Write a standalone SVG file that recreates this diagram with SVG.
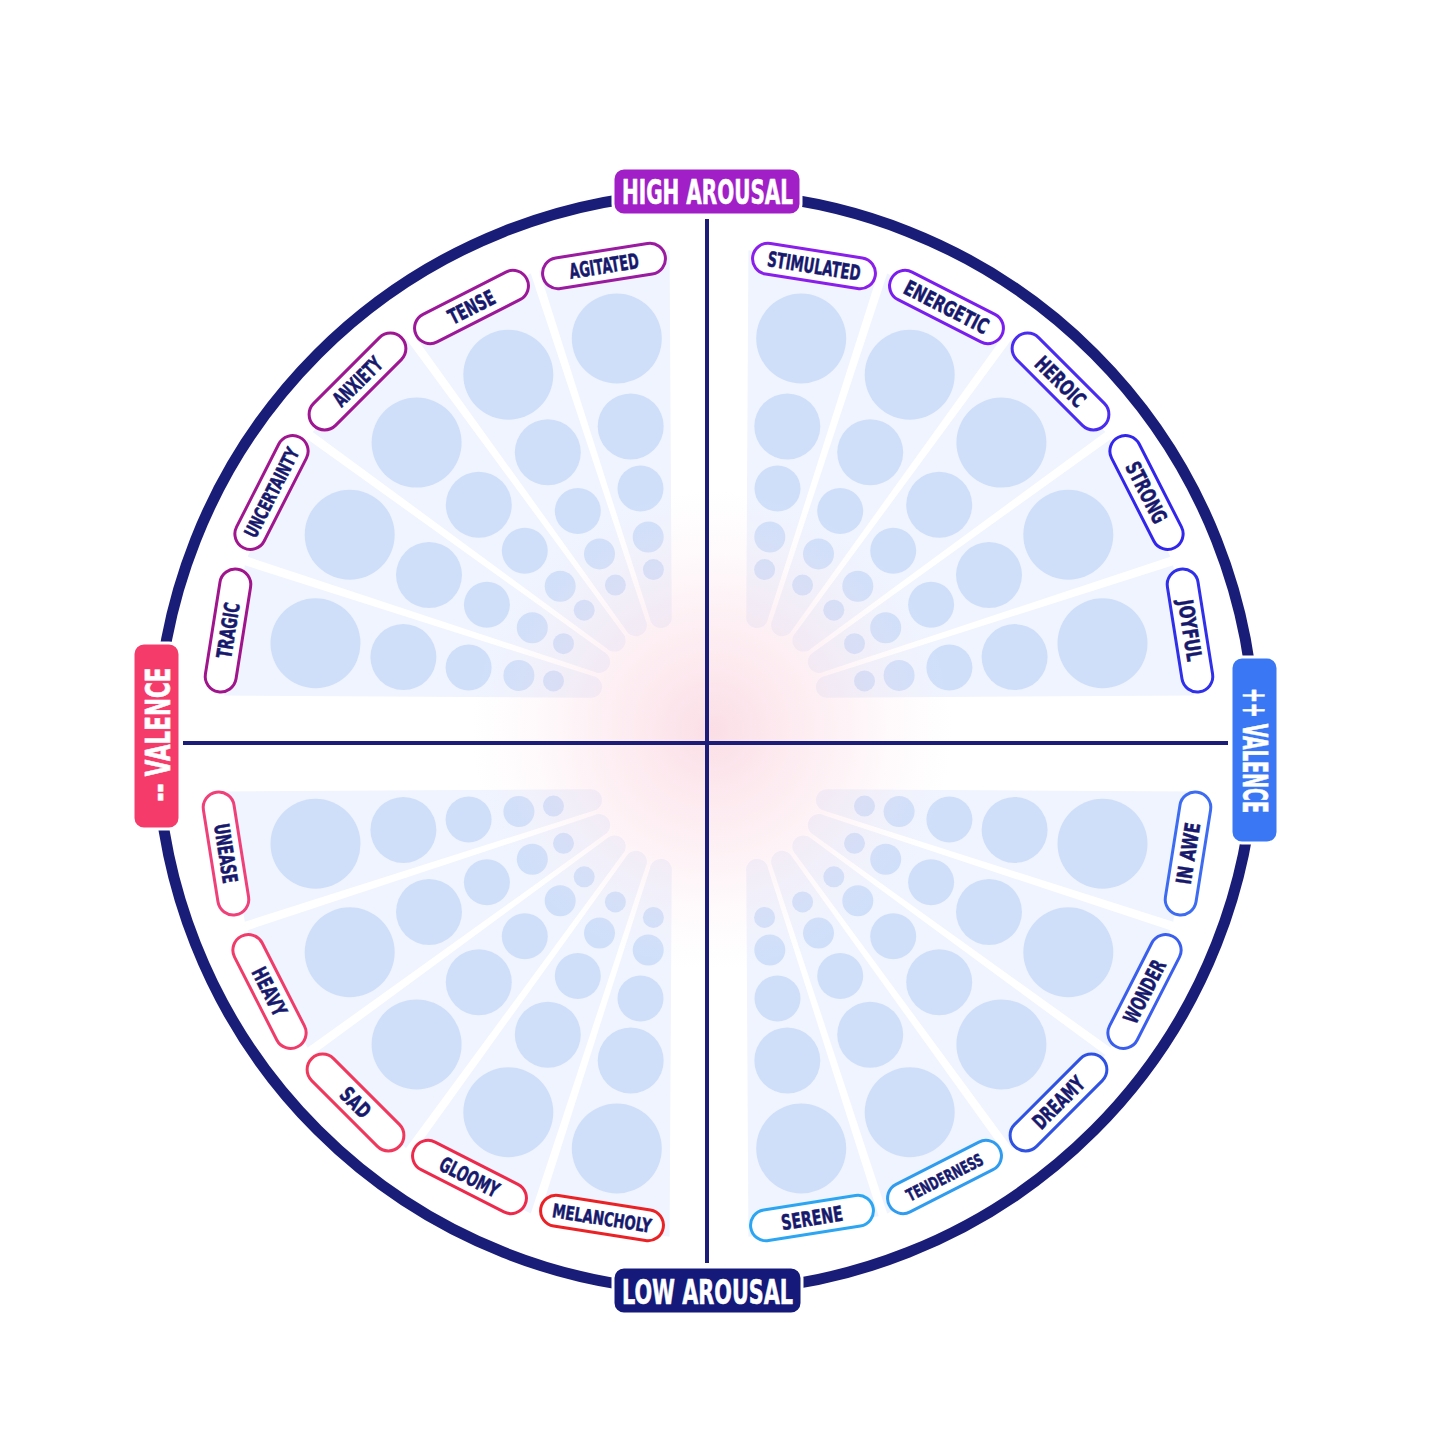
<svg xmlns="http://www.w3.org/2000/svg" xmlns:xlink="http://www.w3.org/1999/xlink" width="1445" height="1445" viewBox="0 0 1445 1445">
<style>
.petal{fill:#eff4fe}
.dot{fill:#cfdffa}
.pill{fill:#ffffff;stroke-width:3}
.lbl{font-family:"DejaVu Sans Condensed","DejaVu Sans",Roboto,sans-serif;font-stretch:condensed;font-weight:700;font-size:21px;fill:#17196d;text-anchor:middle;stroke:#17196d;stroke-width:0.5}
.axl{font-family:"DejaVu Sans Condensed","DejaVu Sans",Roboto,sans-serif;font-stretch:condensed;font-weight:700;font-size:33px;fill:#ffffff;text-anchor:middle;stroke:#ffffff;stroke-width:0.6}
.axis{stroke:#1b1d78;stroke-width:4;fill:none}
</style>
<defs>
<radialGradient id="glow" cx="0.5" cy="0.5" r="0.5">
<stop offset="0" stop-color="#f8c3d2" stop-opacity="0.55"/>
<stop offset="0.5" stop-color="#fad3de" stop-opacity="0.32"/>
<stop offset="1" stop-color="#fde8ee" stop-opacity="0"/>
</radialGradient>
<path id="pt" d="M-11 -84 L-66 -445 L66 -445 L11 -84 A11 11 0 0 1 -11 -84Z"/>
<g id="quad">
<g class="petal">
<use href="#pt" transform="translate(674 700) rotate(-9)"/>
<use href="#pt" transform="translate(674 700) rotate(-27)"/>
<use href="#pt" transform="translate(674 700) rotate(-45)"/>
<use href="#pt" transform="translate(674 700) rotate(-63)"/>
<use href="#pt" transform="translate(674 700) rotate(-81)"/>
</g>
<g class="dot">
<circle cx="616.8" cy="338.5" r="45"/>
<circle cx="630.7" cy="426.4" r="33"/>
<circle cx="640.5" cy="488.6" r="23"/>
<circle cx="648.2" cy="537" r="15.5"/>
<circle cx="653.4" cy="569.6" r="10.5"/>
<circle cx="508.3" cy="374.8" r="45"/>
<circle cx="547.8" cy="452.3" r="33"/>
<circle cx="577.8" cy="511.1" r="23"/>
<circle cx="599.5" cy="553.9" r="15.5"/>
<circle cx="615.4" cy="585.1" r="10.5"/>
<circle cx="416.6" cy="442.6" r="45"/>
<circle cx="478.8" cy="504.8" r="33"/>
<circle cx="524.8" cy="550.8" r="23"/>
<circle cx="560.2" cy="586.2" r="15.5"/>
<circle cx="584.2" cy="610.2" r="10.5"/>
<circle cx="349.7" cy="534.7" r="45"/>
<circle cx="429" cy="575.1" r="33"/>
<circle cx="486.9" cy="604.7" r="23"/>
<circle cx="532.3" cy="627.8" r="15.5"/>
<circle cx="563.5" cy="643.7" r="10.5"/>
<circle cx="315.5" cy="643.2" r="45"/>
<circle cx="403.4" cy="657.1" r="33"/>
<circle cx="468.6" cy="667.5" r="23"/>
<circle cx="518.9" cy="675.4" r="15.5"/>
<circle cx="553.5" cy="680.9" r="10.5"/>
</g>
</g>
</defs>
<rect x="0" y="0" width="1445" height="1445" fill="#ffffff"/>
<g id="wheel">
<use href="#quad"/>
<use href="#quad" transform="matrix(-1 0 0 1 1418 0)"/>
<use href="#quad" transform="matrix(1 0 0 -1 0 1487)"/>
<use href="#quad" transform="matrix(-1 0 0 -1 1418 1487)"/>
</g>
<circle cx="712" cy="730" r="240" fill="url(#glow)"/>
<circle id="ring" cx="706" cy="742" r="549" fill="none" stroke="#1a1d78" stroke-width="11"/>
<g id="connectors">
<line class="axis" x1="707" y1="219" x2="707" y2="1263"/>
<line class="axis" x1="183" y1="743" x2="1228" y2="743"/>
</g>
<g id="n-agitated" transform="translate(604 266) rotate(-9)"><rect class="pill" x="-62" y="-15.5" width="124" height="31" rx="15.5" stroke="#9a1aa0"/><text class="lbl" y="7.5" textLength="70" lengthAdjust="spacingAndGlyphs">AGITATED</text></g>
<g id="n-tense" transform="translate(471.5 307) rotate(-27)"><rect class="pill" x="-62" y="-15.5" width="124" height="31" rx="15.5" stroke="#9c1898"/><text class="lbl" y="7.5" textLength="50" lengthAdjust="spacingAndGlyphs">TENSE</text></g>
<g id="n-anxiety" transform="translate(357.5 381.5) rotate(-45)"><rect class="pill" x="-62" y="-15.5" width="124" height="31" rx="15.5" stroke="#9e1692"/><text class="lbl" y="7.5" textLength="60" lengthAdjust="spacingAndGlyphs">ANXIETY</text></g>
<g id="n-uncertainty" transform="translate(271.5 492.5) rotate(-63)"><rect class="pill" x="-62" y="-15.5" width="124" height="31" rx="15.5" stroke="#a0168e"/><text class="lbl" y="7" style="font-size:19px" textLength="98" lengthAdjust="spacingAndGlyphs">UNCERTAINTY</text></g>
<g id="n-tragic" transform="translate(228 630.5) rotate(-81)"><rect class="pill" x="-62" y="-15.5" width="124" height="31" rx="15.5" stroke="#a0148c"/><text class="lbl" y="7.5" textLength="56" lengthAdjust="spacingAndGlyphs">TRAGIC</text></g>
<g id="n-stimulated" transform="translate(814 266) rotate(9)"><rect class="pill" x="-62" y="-15.5" width="124" height="31" rx="15.5" stroke="#8a1eea"/><text class="lbl" y="7.5" textLength="94" lengthAdjust="spacingAndGlyphs">STIMULATED</text></g>
<g id="n-energetic" transform="translate(946.5 307) rotate(27)"><rect class="pill" x="-62" y="-15.5" width="124" height="31" rx="15.5" stroke="#7a1ef0"/><text class="lbl" y="7.5" textLength="92" lengthAdjust="spacingAndGlyphs">ENERGETIC</text></g>
<g id="n-heroic" transform="translate(1060.5 381.5) rotate(45)"><rect class="pill" x="-62" y="-15.5" width="124" height="31" rx="15.5" stroke="#4a2cf0"/><text class="lbl" y="7.5" textLength="62" lengthAdjust="spacingAndGlyphs">HEROIC</text></g>
<g id="n-strong" transform="translate(1146.5 492.5) rotate(63)"><rect class="pill" x="-62" y="-15.5" width="124" height="31" rx="15.5" stroke="#3226ec"/><text class="lbl" y="7.5" textLength="66" lengthAdjust="spacingAndGlyphs">STRONG</text></g>
<g id="n-joyful" transform="translate(1190 630.5) rotate(81)"><rect class="pill" x="-62" y="-15.5" width="124" height="31" rx="15.5" stroke="#3030ea"/><text class="lbl" y="7.5" textLength="62" lengthAdjust="spacingAndGlyphs">JOYFUL</text></g>
<g id="n-in-awe" transform="translate(1188 853.5) rotate(-81)"><rect class="pill" x="-62" y="-15.5" width="124" height="31" rx="15.5" stroke="#3d6cf2"/><text class="lbl" y="7.5" textLength="62" lengthAdjust="spacingAndGlyphs">IN AWE</text></g>
<g id="n-wonder" transform="translate(1144.5 991.5) rotate(-63)"><rect class="pill" x="-62" y="-15.5" width="124" height="31" rx="15.5" stroke="#3a5eee"/><text class="lbl" y="7.5" textLength="68" lengthAdjust="spacingAndGlyphs">WONDER</text></g>
<g id="n-dreamy" transform="translate(1058.5 1102.5) rotate(-45)"><rect class="pill" x="-62" y="-15.5" width="124" height="31" rx="15.5" stroke="#2f52e2"/><text class="lbl" y="7.5" textLength="64" lengthAdjust="spacingAndGlyphs">DREAMY</text></g>
<g id="n-tenderness" transform="translate(944.5 1177) rotate(-27)"><rect class="pill" x="-62" y="-15.5" width="124" height="31" rx="15.5" stroke="#2f9cef"/><text class="lbl" y="6.5" style="font-size:17px" textLength="84" lengthAdjust="spacingAndGlyphs">TENDERNESS</text></g>
<g id="n-serene" transform="translate(812 1218) rotate(-9)"><rect class="pill" x="-62" y="-15.5" width="124" height="31" rx="15.5" stroke="#2ca6f2"/><text class="lbl" y="7.5" textLength="62" lengthAdjust="spacingAndGlyphs">SERENE</text></g>
<g id="n-melancholy" transform="translate(602 1218) rotate(9)"><rect class="pill" x="-62" y="-15.5" width="124" height="31" rx="15.5" stroke="#ea2226"/><text class="lbl" y="7" style="font-size:19px" textLength="100" lengthAdjust="spacingAndGlyphs">MELANCHOLY</text></g>
<g id="n-gloomy" transform="translate(469.5 1177) rotate(27)"><rect class="pill" x="-62" y="-15.5" width="124" height="31" rx="15.5" stroke="#ee2a4c"/><text class="lbl" y="7.5" textLength="64" lengthAdjust="spacingAndGlyphs">GLOOMY</text></g>
<g id="n-sad" transform="translate(355.5 1102.5) rotate(45)"><rect class="pill" x="-62" y="-15.5" width="124" height="31" rx="15.5" stroke="#f0385c"/><text class="lbl" y="7.5" textLength="34" lengthAdjust="spacingAndGlyphs">SAD</text></g>
<g id="n-heavy" transform="translate(269.5 991.5) rotate(63)"><rect class="pill" x="-62" y="-15.5" width="124" height="31" rx="15.5" stroke="#f03c6a"/><text class="lbl" y="7.5" textLength="52" lengthAdjust="spacingAndGlyphs">HEAVY</text></g>
<g id="n-unease" transform="translate(226 853.5) rotate(81)"><rect class="pill" x="-62" y="-15.5" width="124" height="31" rx="15.5" stroke="#f0407a"/><text class="lbl" y="7.5" textLength="60" lengthAdjust="spacingAndGlyphs">UNEASE</text></g>
<g id="a-high-arousal"><rect x="613" y="168" width="188" height="47" rx="11" fill="#a11fc6" stroke="#ffffff" stroke-width="3"/><text class="axl" x="707.5" y="204" textLength="171" lengthAdjust="spacingAndGlyphs">HIGH AROUSAL</text></g>
<g id="a-low-arousal"><rect x="613" y="1267" width="189" height="47" rx="11" fill="#14197a" stroke="#ffffff" stroke-width="3"/><text class="axl" x="707.5" y="1304" textLength="171" lengthAdjust="spacingAndGlyphs">LOW AROUSAL</text></g>
<g id="a-neg-valence"><rect x="133" y="643" width="47" height="186" rx="11" fill="#f43b6a" stroke="#ffffff" stroke-width="3"/><text class="axl" transform="translate(169.5 734.5) rotate(-90)" textLength="134" lengthAdjust="spacingAndGlyphs">-- VALENCE</text></g>
<g id="a-pos-valence"><rect x="1231" y="657" width="47" height="186" rx="11" fill="#3a77f5" stroke="#ffffff" stroke-width="3"/><text class="axl" transform="translate(1242.5 750.5) rotate(90)" textLength="125" lengthAdjust="spacingAndGlyphs">++ VALENCE</text></g>
</svg>
